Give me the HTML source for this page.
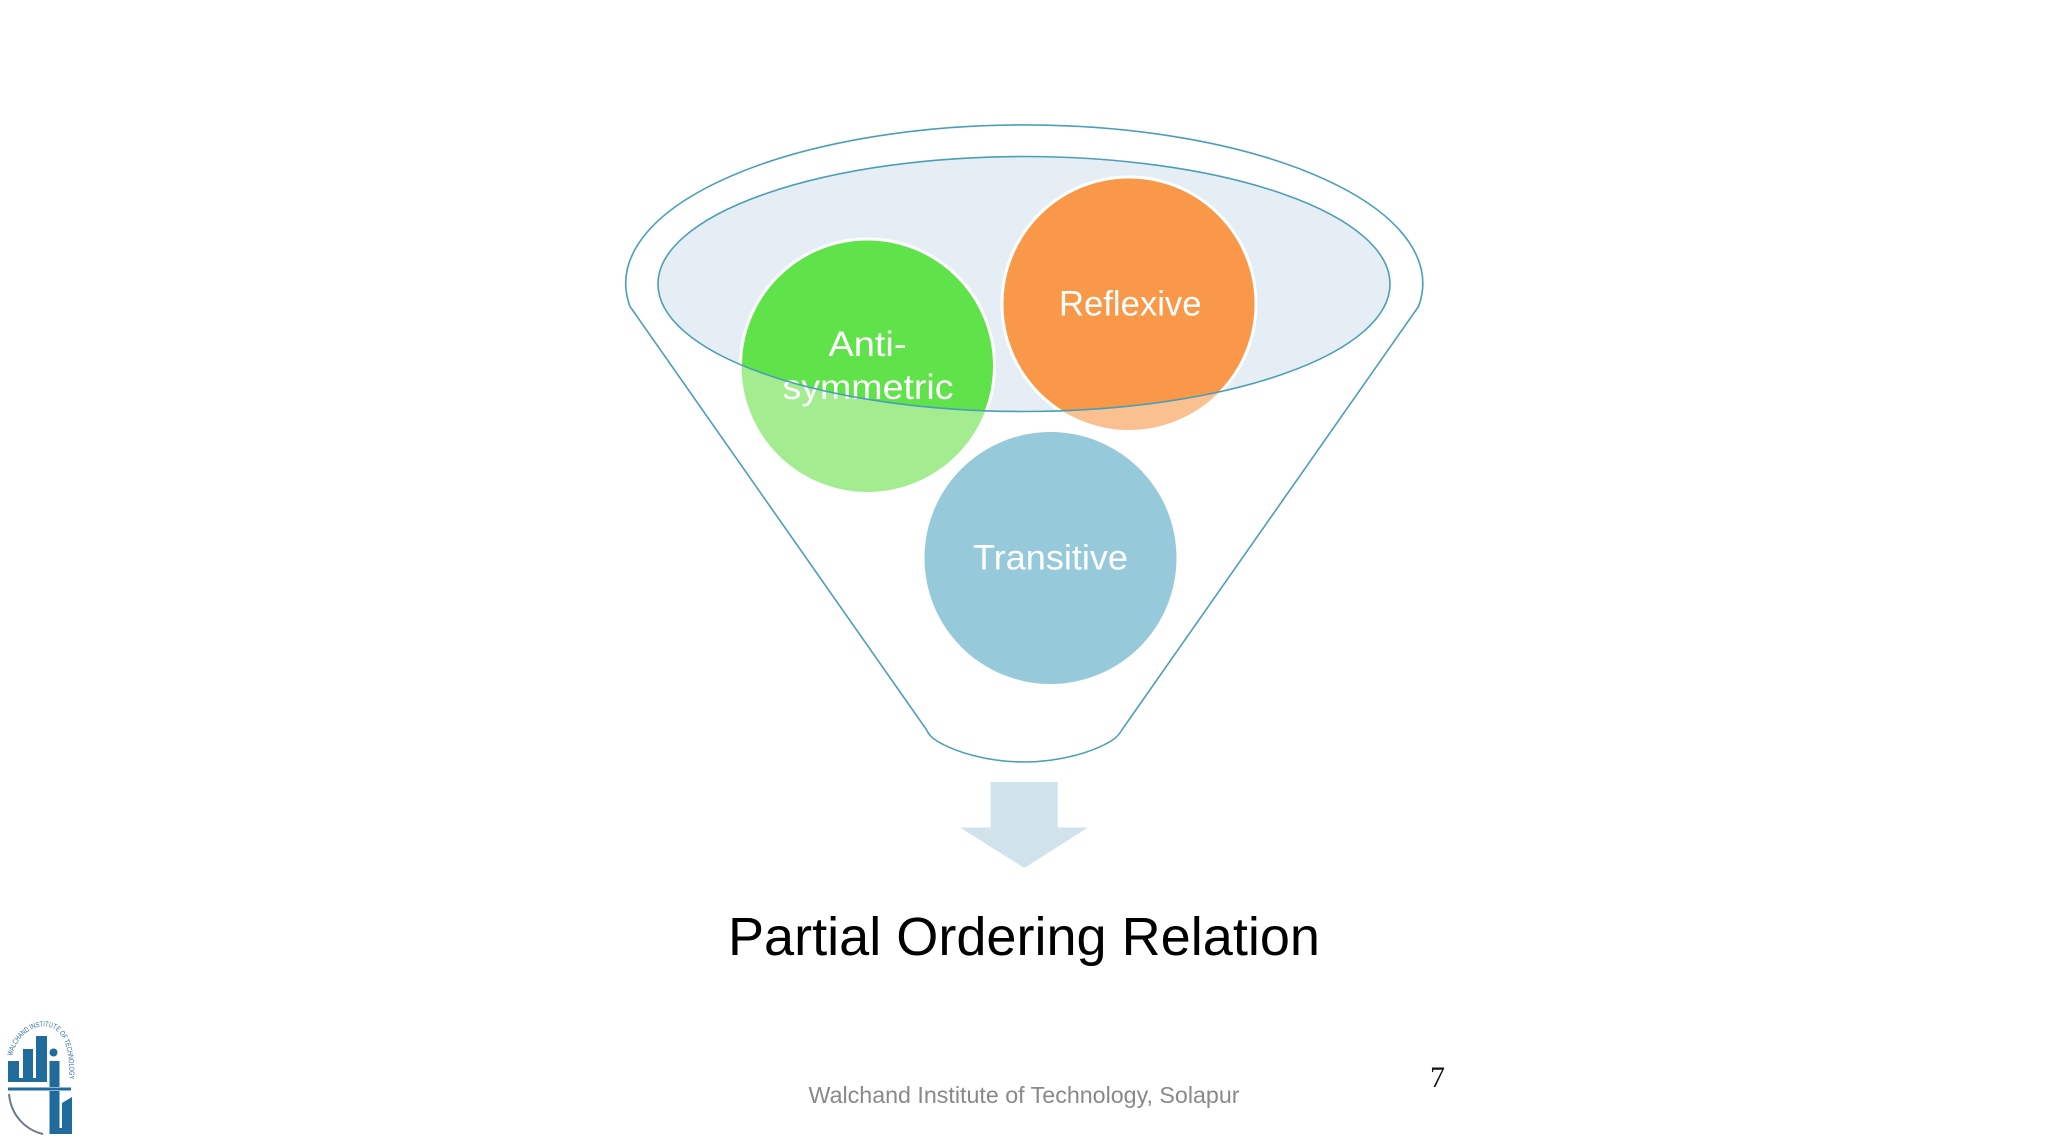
<!DOCTYPE html>
<html><head><meta charset="utf-8"><style>
html,body{margin:0;padding:0;background:#fff}
svg{display:block}
text{font-family:"Liberation Sans",sans-serif}
</style></head><body>
<svg width="2048" height="1148" viewBox="0 0 2048 1148" xmlns="http://www.w3.org/2000/svg">
<defs>
<clipPath id="ell"><ellipse cx="1024" cy="284" rx="366" ry="127.5"/></clipPath>
</defs>
<rect width="2048" height="1148" fill="#fff"/>
<!-- funnel -->
<path d="M630 306.5A398.5 158.5 0 1 1 1418.5 306.5L1122.5 729C1119 735 1116 738 1111 741C1093 752 1060 762 1024 762C988 762 955 752 937 741C932 738 929 735 926 729Z" fill="#fff" stroke="#4A9FB8" stroke-width="1.6"/>
<ellipse cx="1024" cy="284" rx="366" ry="127.5" fill="#E5EEF4"/>
<!-- circles, washed -->
<circle cx="867.5" cy="366" r="126" fill="#A3ED90"/>
<circle cx="1129" cy="304" r="126" fill="#FBC090"/>
<circle cx="1050.5" cy="558" r="126" fill="#96CADB"/>
<!-- circles, saturated inside ellipse -->
<g clip-path="url(#ell)">
<circle cx="867.5" cy="366" r="127" fill="#5FE24A" stroke="#fff" stroke-width="3"/>
<circle cx="1129" cy="304" r="127" fill="#F89848" stroke="#fff" stroke-width="3"/>
</g>
<text x="828.5" y="356" font-size="35" fill="#fff" textLength="78" lengthAdjust="spacingAndGlyphs">Anti-</text>
<text x="782.5" y="399" font-size="35" fill="#fff" textLength="171" lengthAdjust="spacingAndGlyphs">symmetric</text>
<text x="1059" y="315.5" font-size="35" fill="#fff" textLength="142.5" lengthAdjust="spacingAndGlyphs">Reflexive</text>
<text x="973" y="569.5" font-size="35" fill="#fff" textLength="155" lengthAdjust="spacingAndGlyphs">Transitive</text>
<ellipse cx="1024" cy="284" rx="366" ry="127.5" fill="none" stroke="#4A9FB8" stroke-width="1.6"/>
<!-- arrow -->
<polygon points="990.7,782 1057.7,782 1057.7,827.5 1088,827.5 1024.3,868 960,827.5 990.7,827.5" fill="#D0E3EA"/>
<!-- titles -->
<text x="728" y="955" font-size="54" fill="#000" textLength="592" lengthAdjust="spacingAndGlyphs">Partial Ordering Relation</text>
<text x="808.5" y="1103" font-size="23.5" fill="#898989" textLength="431" lengthAdjust="spacingAndGlyphs">Walchand Institute of Technology, Solapur</text>
<text x="1430" y="1087" font-size="30" fill="#111" style="font-family:'Liberation Serif',serif">7</text>
<!-- logo -->
<g fill="#1F6C9C">
<path d="M8 1061H19V1078H23V1049H33V1078H36V1036H47V1082H8Z"/>
<circle cx="53.5" cy="1052.5" r="4"/>
<rect x="49.5" y="1061" width="10" height="26"/>
<rect x="8" y="1087.5" width="63" height="3"/>
<path d="M49.5 1091H59.5V1128H62V1103L72 1097V1134H49.5Z"/>
</g>
<path d="M9 1094C11 1116 26 1130 43 1134" fill="none" stroke="#6A7A88" stroke-width="2"/>
<path id="lg" d="M12 1056C18 1032 40 1020 56 1030C68 1040 70 1060 69 1082" fill="none"/>
<text font-size="7.5" fill="#2E6F9C" textLength="112" lengthAdjust="spacingAndGlyphs"><textPath href="#lg">WALCHAND INSTITUTE OF TECHNOLOGY</textPath></text>
</svg>
</body></html>
